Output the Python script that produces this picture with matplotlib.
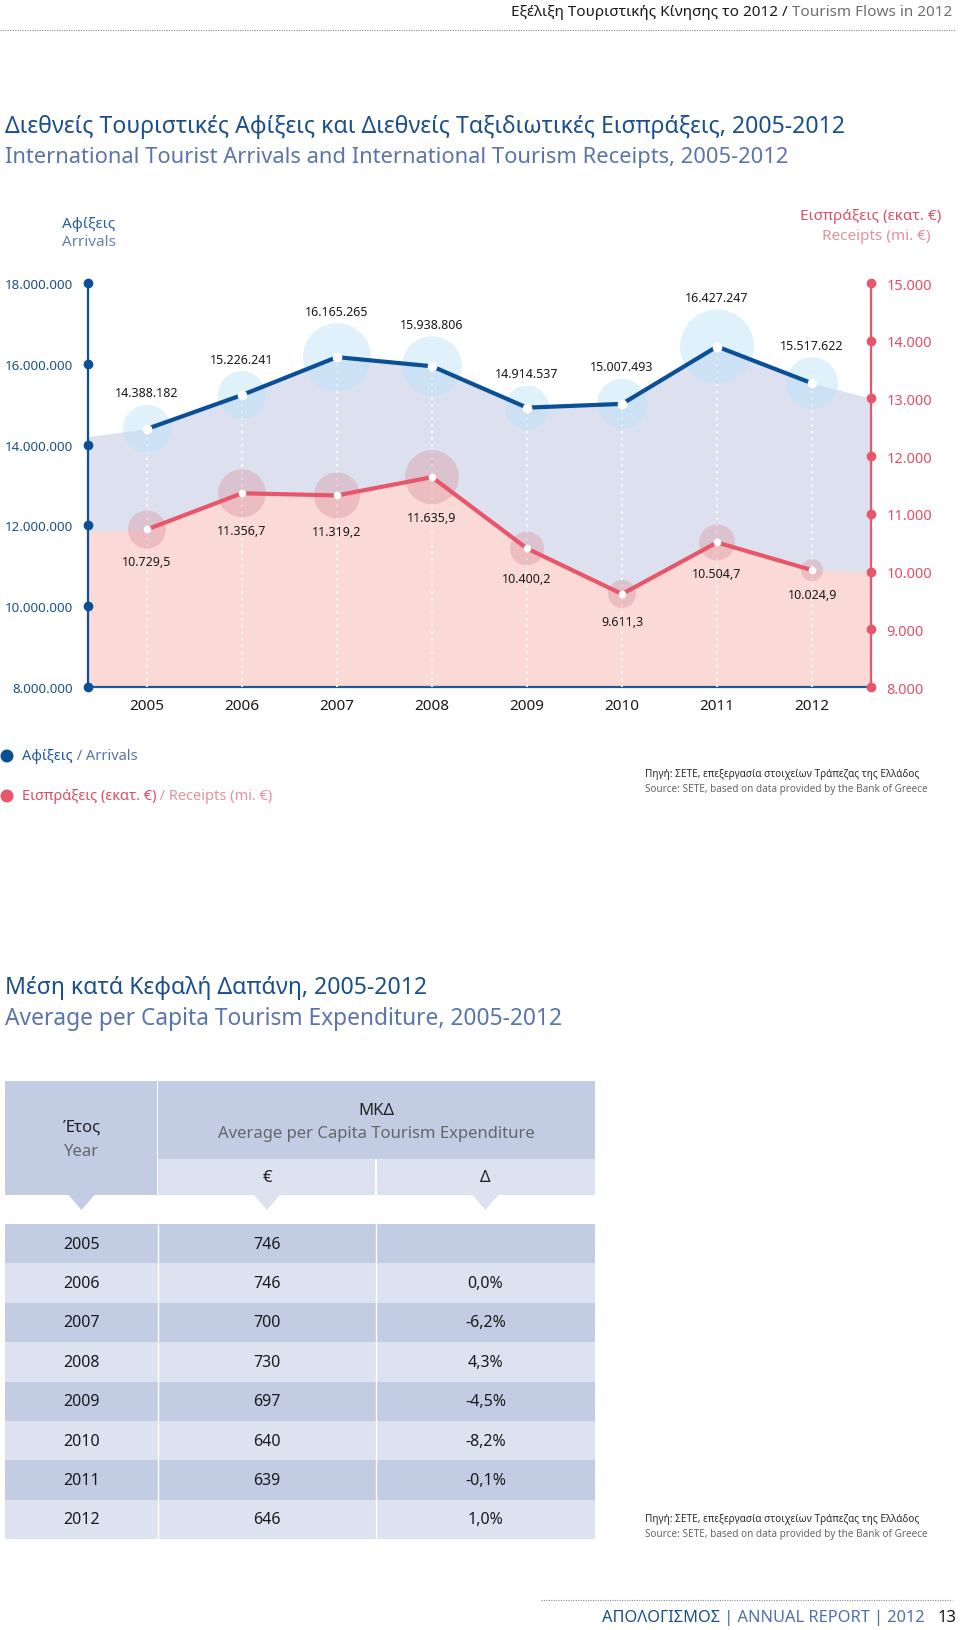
import matplotlib
matplotlib.use("Agg")
import matplotlib.pyplot as plt
from matplotlib.patches import Rectangle, Polygon

plt.rcParams['font.family'] = ['Noto Sans', 'DejaVu Sans']

# ---- data ----
years = ['2005', '2006', '2007', '2008', '2009', '2010', '2011', '2012']
arrivals = [14388182, 15226241, 16165265, 15938806, 14914537, 15007493, 16427247, 15517622]
arrivals_txt = ['14.388.182', '15.226.241', '16.165.265', '15.938.806',
                '14.914.537', '15.007.493', '16.427.247', '15.517.622']
receipts = [10729.5, 11356.7, 11319.2, 11635.9, 10400.2, 9611.3, 10504.7, 10024.9]
receipts_txt = ['10.729,5', '11.356,7', '11.319,2', '11.635,9',
                '10.400,2', '9.611,3', '10.504,7', '10.024,9']
# where the shaded bands meet the left / right frame
arrivals_edges = [14200000, 15150000]
receipts_edges = [10700, 10000]

arr_ticks = [8000000, 10000000, 12000000, 14000000, 16000000, 18000000]
arr_tick_lbl = ['8.000.000', '10.000.000', '12.000.000', '14.000.000', '16.000.000', '18.000.000']
rec_ticks = [8000, 9000, 10000, 11000, 12000, 13000, 14000, 15000]
rec_tick_lbl = ['8.000', '9.000', '10.000', '11.000', '12.000', '13.000', '14.000', '15.000']

tbl_eur = ['746', '746', '700', '730', '697', '640', '639', '646']
tbl_delta = ['', '0,0%', '-6,2%', '4,3%', '-4,5%', '-8,2%', '-0,1%', '1,0%']

# halo sizes (px radius) of the decorative circles
arr_halo = [24, 24, 34, 30, 22, 25, 37, 26]
rec_halo = [19, 24, 23, 27, 17, 14, 18, 11]

BLUE = '#0b4f96'
BLUE_TXT = '#1c4f8c'
BLUE_LT = '#5b75aa'
RED = '#e8566b'
RED_LT = '#e8909b'
DARK = '#c2cde4'
LIGHT = '#dde2f0'

W, H = 960, 1631
fig = plt.figure(figsize=(W / 100, H / 100), dpi=100)
fig.patch.set_facecolor('white')

# page layer in pixel coordinates
page = fig.add_axes([0, 0, 1, 1])
page.set_xlim(0, W)
page.set_ylim(H, 0)
page.axis('off')


def run_left(x, y, parts, size, **kw):
    t = page.text(x, y, parts[0][0], color=parts[0][1], fontsize=size, ha='left', va='center', **kw)
    for s, c in parts[1:]:
        t = page.annotate(s, xy=(1, 0), xycoords=t, color=c, fontsize=size, ha='left', va='bottom', **kw)
    return t


def run_right(x, y, parts, size, **kw):
    s, c = parts[-1]
    t = page.text(x, y, s, color=c, fontsize=size, ha='right', va='center', **kw)
    for s, c in reversed(parts[:-1]):
        t = page.annotate(s, xy=(0, 0), xycoords=t, color=c, fontsize=size, ha='right', va='bottom', **kw)
    return t


# header
run_right(952, 13, [('Εξέλιξη Τουριστικής Κίνησης το 2012 / ', '#1a1a1a'),
                    ('Tourism Flows in 2012', '#6f6f6f')], 11)
page.plot([0, 955], [31, 31], color='#8a8a8a', lw=0.8, ls=(0, (1, 1.2)))

# title 1
page.text(5, 127, 'Διεθνείς Τουριστικές Αφίξεις και Διεθνείς Ταξιδιωτικές Εισπράξεις, 2005-2012',
          color='#1a4f8e', fontsize=16.6, va='center')
page.text(5, 158, 'International Tourist Arrivals and International Tourism Receipts, 2005-2012',
          color=BLUE_LT, fontsize=15.8, va='center')

page.text(62, 224, 'Αφίξεις', color='#2a5ea3', fontsize=11, va='center')
page.text(62, 242, 'Arrivals', color='#6a80ae', fontsize=11, va='center')
page.text(941, 216, 'Εισπράξεις (εκατ. €)', color='#d9536a', fontsize=11, va='center', ha='right')
page.text(931, 237, 'Receipts (mi. €)', color=RED_LT, fontsize=11, va='center', ha='right')

# ---- chart ----
ax = fig.add_axes([88 / W, 1 - 688 / H, 783 / W, 404 / H])
ax2 = ax.twinx()
x0, x1 = -0.62, 7.62
xs = list(range(len(years)))
ax.set_xlim(x0, x1)
ax.set_ylim(8000000, 18000000)
ax2.set_ylim(8000, 15000)
ax.patch.set_visible(False)
rt = ax2.transData

ax.fill_between([x0] + xs + [x1], 8000000, [arrivals_edges[0]] + arrivals + [arrivals_edges[1]],
                color='#dde1ef', lw=0, zorder=1)
ax.fill_between([x0] + xs + [x1], 8000, [receipts_edges[0]] + receipts + [receipts_edges[1]],
                color='#fad9d6', lw=0, zorder=2, transform=rt)
ax.vlines(xs, 8000000, arrivals, colors='white', lw=1.3, linestyles=(0, (1.2, 2.5)), zorder=3)

ax.scatter(xs, receipts, s=[(2 * r * 0.72) ** 2 for r in rec_halo], color='#d9949f', alpha=0.4,
           lw=0, zorder=4, transform=rt)
ax.scatter(xs, arrivals, s=[(2 * r * 0.72) ** 2 for r in arr_halo], color='#b8e1f8', alpha=0.45,
           lw=0, zorder=4)
ax.plot(xs, receipts, color=RED, lw=3, zorder=5, transform=rt)
ax.plot(xs, arrivals, color=BLUE, lw=3, zorder=5)
ax.plot(xs, receipts, 'o', color='white', ms=5.5, mew=0, zorder=6, transform=rt)
ax.plot(xs, arrivals, 'o', color='white', ms=7, mew=0, zorder=6)

for i in xs:
    ax.annotate(arrivals_txt[i], (i, arrivals[i]), xytext=(0, (arr_halo[i] + 12) * 0.72),
                textcoords='offset points', ha='center', va='center', fontsize=9, color='#1a1a1a', zorder=7)
    ax.annotate(receipts_txt[i], (i, receipts[i]), xycoords=rt, xytext=(0, -(rec_halo[i] + 13) * 0.72),
                textcoords='offset points', ha='center', va='center', fontsize=9, color='#1a1a1a', zorder=7)

for s in ['top', 'right']:
    ax.spines[s].set_visible(False)
for s in ['top', 'left', 'bottom']:
    ax2.spines[s].set_visible(False)
ax.spines['left'].set_color(BLUE)
ax.spines['left'].set_linewidth(1.6)
ax.spines['bottom'].set_color('#1d5a9a')
ax.spines['bottom'].set_linewidth(1.6)
ax2.spines['right'].set_color(RED)
ax2.spines['right'].set_linewidth(1.6)

ax.set_xticks(xs, years)
ax.set_yticks(arr_ticks, arr_tick_lbl)
ax2.set_yticks(rec_ticks, rec_tick_lbl)
ax.tick_params(axis='x', length=0, pad=8, labelsize=11, labelcolor='#1a1a1a')
ax.tick_params(axis='y', length=0, pad=11, labelsize=9.6, labelcolor=BLUE_TXT)
ax2.tick_params(axis='y', length=0, pad=11, labelsize=10.5, labelcolor='#e0506a')
ax.plot([x0] * len(arr_ticks), arr_ticks, 'o', color=BLUE, ms=6, clip_on=False, zorder=8)
ax2.plot([x1] * len(rec_ticks), rec_ticks, 'o', color=RED, ms=6, clip_on=False, zorder=8)

# legend
page.scatter([7, 7], [757, 797], s=[(13 * 0.72) ** 2] * 2, color=[BLUE, RED], lw=0)
run_left(22, 757, [('Αφίξεις', '#1f58a0'), (' / Arrivals', '#5b75aa')], 10.5)
run_left(22, 797, [('Εισπράξεις (εκατ. €)', '#dc4e66'), (' / Receipts (mi. €)', RED_LT)], 10.5)

for yy in (775, 1520):
    page.text(645, yy, 'Πηγή: ΣΕΤΕ, επεξεργασία στοιχείων Τράπεζας της Ελλάδος', fontsize=7.2,
              color='#2a2a2a', va='center')
    page.text(645, yy + 15, 'Source: SETE, based on data provided by the Bank of Greece', fontsize=7.2,
              color='#666666', va='center')

# ---- table ----
page.text(5, 988, 'Μέση κατά Κεφαλή Δαπάνη, 2005-2012', color='#1a4f8e', fontsize=16.6, va='center')
page.text(5, 1019, 'Average per Capita Tourism Expenditure, 2005-2012', color=BLUE_LT, fontsize=16.4,
          va='center')

cx = [5, 158, 376, 595]
mid = [(cx[k] + cx[k + 1]) / 2 for k in range(3)]
page.add_patch(Rectangle((cx[0], 1082), cx[1] - cx[0] - 1, 114, color=DARK, lw=0))
page.add_patch(Rectangle((cx[1], 1082), cx[3] - cx[1], 78, color=DARK, lw=0))
page.add_patch(Rectangle((cx[1], 1160), cx[2] - cx[1] - 1, 36, color=LIGHT, lw=0))
page.add_patch(Rectangle((cx[2] + 1, 1160), cx[3] - cx[2] - 1, 36, color=LIGHT, lw=0))
for k, c in enumerate([DARK, LIGHT, LIGHT]):
    page.add_patch(Polygon([(mid[k] - 13, 1196), (mid[k] + 13, 1196), (mid[k], 1211)], color=c, lw=0))

page.text(mid[0], 1128, 'Έτος', fontsize=12, color='#222222', ha='center', va='center')
page.text(mid[0], 1152, 'Year', fontsize=12, color='#666666', ha='center', va='center')
page.text((cx[1] + cx[3]) / 2, 1111, 'ΜΚΔ', fontsize=12, color='#222222', ha='center', va='center')
page.text((cx[1] + cx[3]) / 2, 1134, 'Average per Capita Tourism Expenditure', fontsize=12,
          color='#666666', ha='center', va='center')
page.text(mid[1], 1178, '€', fontsize=12, color='#222222', ha='center', va='center')
page.text(mid[2], 1178, 'Δ', fontsize=12, color='#222222', ha='center', va='center')

top0, rh = 1225, 39.4
for i, (yr, e, d) in enumerate(zip(years, tbl_eur, tbl_delta)):
    top = top0 + i * rh
    page.add_patch(Rectangle((cx[0], top), cx[3] - cx[0], rh, color=DARK if i % 2 == 0 else LIGHT, lw=0))
    for k, s in enumerate([yr, e, d]):
        page.text(mid[k], top + rh / 2, s, fontsize=11.5, color='#1a1a1a', ha='center', va='center')
page.vlines([cx[1], cx[2]], top0, top0 + rh * len(years), colors='white', lw=1)

# footer
page.plot([541, 952], [1601, 1601], color='#8a8a8a', lw=0.8, ls=(0, (1, 1.2)))
page.text(957, 1618, '13', fontsize=12, color='#1a1a1a', ha='right', va='center')
run_right(925, 1618, [('ΑΠΟΛΟΓΙΣΜΟΣ', '#1a4f8e'), (' | ANNUAL REPORT | 2012', '#4f6fae')], 11.8)

fig.savefig('out.png', dpi=100)
